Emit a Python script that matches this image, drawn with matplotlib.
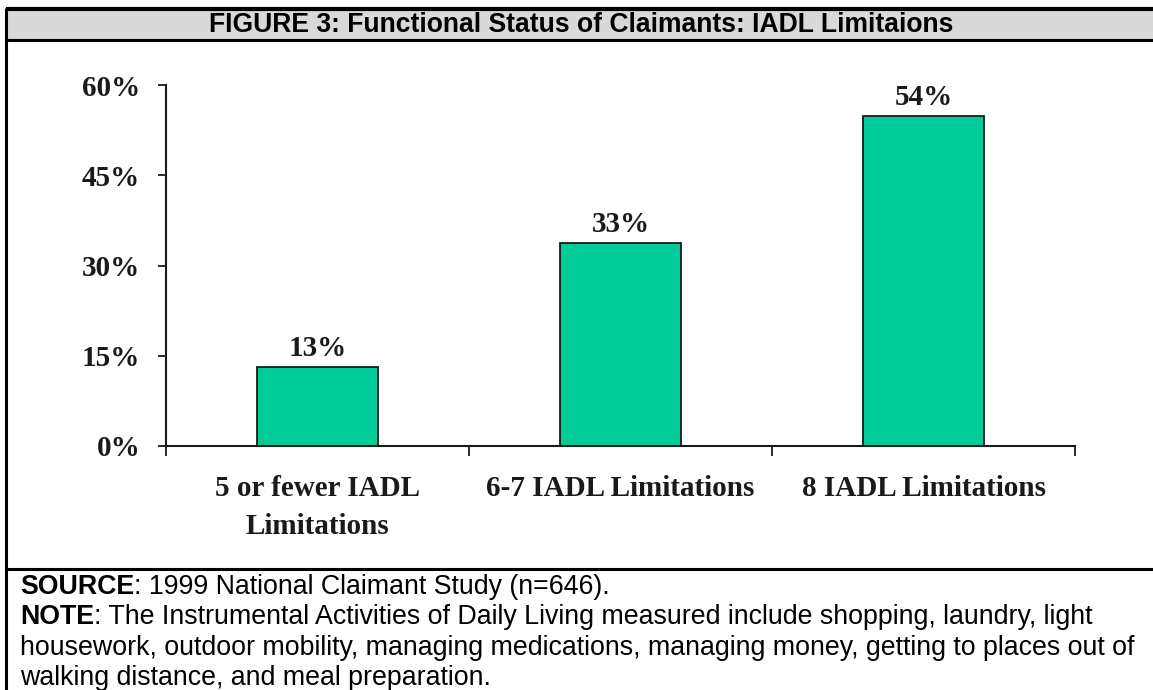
import matplotlib
matplotlib.use("Agg")
import matplotlib.pyplot as plt
from matplotlib.patches import Rectangle
import numpy as np

# Data (bar heights measured against the axis)
categories = ["5 or fewer IADL\nLimitations", "6-7 IADL Limitations", "8 IADL Limitations"]
values = [13.1, 33.7, 54.8]
value_labels = ["13%", "33%", "54%"]
y_ticks = [0, 15, 30, 45, 60]
y_tick_labels = ["0%", "15%", "30%", "45%", "60%"]

title = "FIGURE 3: Functional Status of Claimants: IADL Limitaions"
source_head = "SOURCE"
source_body = ": 1999 National Claimant Study (n=646)."
note_head = "NOTE"
note_body = (": The Instrumental Activities of Daily Living measured include shopping, laundry, light\n"
             "housework, outdoor mobility, managing medications, managing money, getting to places out of\n"
             "walking distance, and meal preparation.")

BAR_COLOR = "#00CC99"
DARK = "#1a1a1a"
BAND = "#D9D9D9"
SERIF = "Liberation Serif"
SANS = "Liberation Sans"
CHART_FS = 21
NOTE_FS = 19.3

W, H = 1153, 690
fig = plt.figure(figsize=(W / 100, H / 100), dpi=100, facecolor="white")

# --- frame overlay in pixel coords ---
frame = fig.add_axes([0, 0, 1, 1], zorder=0)
frame.set_xlim(0, W)
frame.set_ylim(H, 0)
frame.axis("off")

frame.add_patch(Rectangle((6, 9), W - 6, 31, facecolor=BAND, edgecolor="none"))
frame.plot([6, W], [9, 9], color="black", lw=3, solid_capstyle="butt")
frame.plot([6, W], [40, 40], color="black", lw=2.2, solid_capstyle="butt")
frame.plot([6, W], [569, 569], color="black", lw=2.2, solid_capstyle="butt")
frame.plot([6, 6], [8, H], color="black", lw=2.2, solid_capstyle="butt")

frame.text(581, 25, title, ha="center", va="center", fontsize=19.1,
           fontweight="bold", family=SANS, color="black")

# footnote lines, bold heads followed by regular text
base, line_h = 594, 30.4
t1 = frame.text(20, base, source_head, ha="left", va="baseline", fontsize=NOTE_FS,
                fontweight="bold", family=SANS)
frame.annotate(source_body, xy=(1, 0), xycoords=t1, ha="left", va="bottom",
               fontsize=NOTE_FS, family=SANS)
t2 = frame.text(20, base + line_h, note_head, ha="left", va="baseline", fontsize=NOTE_FS,
                fontweight="bold", family=SANS)
frame.annotate(note_body.split("\n")[0], xy=(1, 0), xycoords=t2, ha="left", va="bottom",
               fontsize=NOTE_FS, family=SANS)
for i, line in enumerate(note_body.split("\n")[1:]):
    frame.text(20, base + line_h * (i + 2), line, ha="left", va="baseline",
               fontsize=NOTE_FS, family=SANS)

# --- bar chart ---
x0, x1, y_top, y_bot = 166, 1075, 85, 446
ax = fig.add_axes([x0 / W, (H - y_bot) / H, (x1 - x0) / W, (y_bot - y_top) / H], zorder=1)
ax.patch.set_alpha(0)

x = np.arange(len(categories))
bars = ax.bar(x, values, width=0.4, color=BAR_COLOR, edgecolor=DARK, linewidth=1.3)

for b, lab in zip(bars, value_labels):
    ax.annotate(lab, (b.get_x() + b.get_width() / 2, b.get_height()),
                textcoords="offset points", xytext=(0, 3.5), ha="center", va="bottom",
                fontsize=CHART_FS, fontweight="bold", family=SERIF, color=DARK)

ax.set_xlim(-0.5, 2.5)
ax.set_ylim(0, 60)
ax.set_yticks(y_ticks)
ax.set_yticklabels(y_tick_labels, fontsize=CHART_FS, fontweight="bold", family=SERIF, color=DARK)
ax.tick_params(axis="y", direction="out", length=6, width=1.3, color=DARK, pad=12.5)

ax.set_xticks(x)
ax.set_xticklabels(categories, fontsize=CHART_FS, fontweight="bold", family=SERIF, color=DARK,
                   linespacing=1.5)
ax.tick_params(axis="x", which="major", length=0, pad=21)
ax.set_xticks([-0.5, 0.5, 1.5, 2.5], minor=True)
ax.tick_params(axis="x", which="minor", direction="out", length=7, width=1.3, color=DARK)

for s in ["top", "right"]:
    ax.spines[s].set_visible(False)
for s in ["left", "bottom"]:
    ax.spines[s].set_color(DARK)
    ax.spines[s].set_linewidth(1.5)

fig.savefig("out.png", dpi=100, facecolor="white")
